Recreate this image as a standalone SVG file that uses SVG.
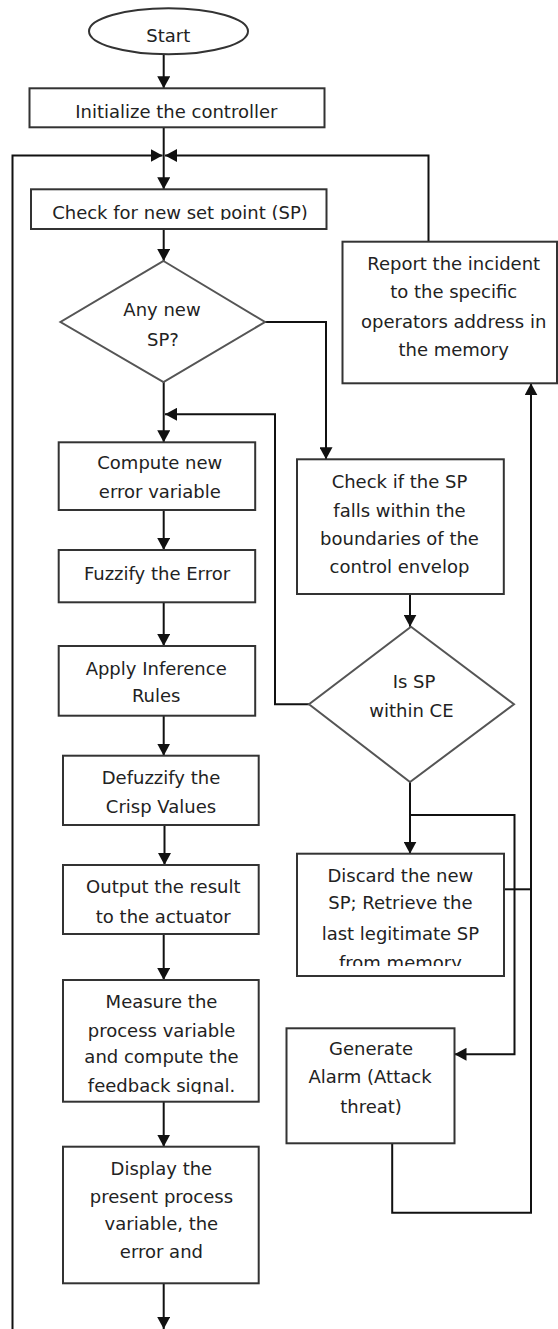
<svg xmlns="http://www.w3.org/2000/svg" width="558" height="1329" viewBox="0 0 558 1329">
<style>
.box{fill:#fff;stroke:#333;stroke-width:2}
.dia{fill:#fff;stroke:#555;stroke-width:2}
.conn{fill:none;stroke:#111;stroke-width:2}
text{font-family:"DejaVu Sans",Verdana,sans-serif;font-size:18px;fill:#222;text-anchor:middle}
</style>
<defs>
<marker id="ah" markerUnits="userSpaceOnUse" markerWidth="12" markerHeight="13" refX="12" refY="6.5" orient="auto">
<path d="M0,0 L12,6.5 L0,13 z" fill="#111"/>
</marker>
<clipPath id="clipCheck"><rect x="31" y="189" width="296" height="31"/></clipPath>
<clipPath id="clipDiscard"><rect x="297" y="854" width="207" height="112"/></clipPath>
<clipPath id="clipMeasure"><rect x="63" y="980" width="196" height="114"/></clipPath>
</defs>
<rect width="558" height="1329" fill="#fff"/>
<g id="connectors">
<path class="conn" d="M163.7,54.3 V88.3" marker-end="url(#ah)"/>
<path class="conn" d="M163.7,127.3 V189.3" marker-end="url(#ah)"/>
<path class="conn" d="M12.5,1329 V155.5 H162.5" marker-end="url(#ah)"/>
<path class="conn" d="M428.5,241.7 V155.5 H165" marker-end="url(#ah)"/>
<path class="conn" d="M163.7,229 V261" marker-end="url(#ah)"/>
<path class="conn" d="M163.7,382 V442.3" marker-end="url(#ah)"/>
<path class="conn" d="M309,704.3 H275 V414.3 H165" marker-end="url(#ah)"/>
<path class="conn" d="M265,322 H326 V459.3" marker-end="url(#ah)"/>
<path class="conn" d="M163.7,510 V550" marker-end="url(#ah)"/>
<path class="conn" d="M163.7,602.3 V646" marker-end="url(#ah)"/>
<path class="conn" d="M163.7,715.7 V755.7" marker-end="url(#ah)"/>
<path class="conn" d="M164.5,825 V865" marker-end="url(#ah)"/>
<path class="conn" d="M163.7,934 V980" marker-end="url(#ah)"/>
<path class="conn" d="M163.7,1101.7 V1146.7" marker-end="url(#ah)"/>
<path class="conn" d="M163.7,1283.3 V1329" marker-end="url(#ah)"/>
<path class="conn" d="M410,594 V626.7" marker-end="url(#ah)"/>
<path class="conn" d="M410,782 V853.7" marker-end="url(#ah)"/>
<path class="conn" d="M410,815 H514.5 V1054.3 H454.5" marker-end="url(#ah)"/>
<path class="conn" d="M503.8,889.3 H531"/>
<path class="conn" d="M392.2,1143.3 V1212.7 H531 V383.3" marker-end="url(#ah)"/>
</g>
<g id="start">
<ellipse class="dia" cx="168.5" cy="31.3" rx="79.5" ry="23" style="stroke:#333"/>
<text x="168.3" y="42.3">Start</text>
</g>
<g id="init">
<rect class="box" x="29.5" y="88.3" width="295" height="39"/>
<text x="176.3" y="118.3">Initialize the controller</text>
</g>
<g id="check-sp">
<rect class="box" x="31" y="189.3" width="295.5" height="39.7"/>
<text x="180" y="219.3" clip-path="url(#clipCheck)">Check for new set point (SP)</text>
</g>
<g id="any-new-sp">
<polygon class="dia" points="163.5,261 265,322 163.5,382 60.5,322"/>
<text x="162" y="316">Any new</text>
<text x="163" y="345.7">SP?</text>
</g>
<g id="report">
<rect class="box" x="342.5" y="241.7" width="214.5" height="141.6"/>
<text x="453.7" y="269.5">Report the incident</text>
<text x="453.7" y="298.3">to the specific</text>
<text x="453.7" y="327.5">operators address in</text>
<text x="453.7" y="356">the memory</text>
</g>
<g id="compute">
<rect class="box" x="58.7" y="442.3" width="196.5" height="67.7"/>
<text x="159.8" y="469.3">Compute new</text>
<text x="159.8" y="498.3">error variable</text>
</g>
<g id="fuzzify">
<rect class="box" x="58.7" y="550" width="196.5" height="52.3"/>
<text x="157" y="580">Fuzzify the Error</text>
</g>
<g id="check-ce">
<rect class="box" x="297" y="459.3" width="206.8" height="134.7"/>
<text x="399.5" y="488.3">Check if the SP</text>
<text x="399.5" y="516.7">falls within the</text>
<text x="399.5" y="545">boundaries of the</text>
<text x="399.5" y="573.3">control envelop</text>
</g>
<g id="apply">
<rect class="box" x="58.7" y="646" width="196.5" height="69.7"/>
<text x="156.2" y="675">Apply Inference</text>
<text x="156.2" y="702.3">Rules</text>
</g>
<g id="is-sp-within-ce">
<polygon class="dia" points="411,626.7 514,704.3 410,782 309,704.3"/>
<text x="414" y="688.3">Is SP</text>
<text x="411.4" y="717.3">within CE</text>
</g>
<g id="defuzzify">
<rect class="box" x="63" y="755.7" width="195.7" height="69.3"/>
<text x="161" y="784">Defuzzify the</text>
<text x="161" y="813.3">Crisp Values</text>
</g>
<g id="output">
<rect class="box" x="63" y="865" width="195.7" height="69"/>
<text x="163.3" y="892.7">Output the result</text>
<text x="163.3" y="923.3">to the actuator</text>
</g>
<g id="discard">
<rect class="box" x="297" y="853.7" width="207" height="122.3"/>
<text x="400.4" y="881.7">Discard the new</text>
<text x="400.4" y="909.3">SP; Retrieve the</text>
<text x="400.4" y="939.5">last legitimate SP</text>
<text x="400.4" y="969" clip-path="url(#clipDiscard)">from memory</text>
</g>
<g id="measure">
<rect class="box" x="63" y="980" width="195.7" height="121.7"/>
<text x="161.5" y="1008.3">Measure the</text>
<text x="161.5" y="1036.7">process variable</text>
<text x="161.5" y="1063.3">and compute the</text>
<text x="161.5" y="1091.7" clip-path="url(#clipMeasure)">feedback signal.</text>
</g>
<g id="alarm">
<rect class="box" x="286.5" y="1028.3" width="168" height="115"/>
<text x="371" y="1055">Generate</text>
<text x="370" y="1083.3">Alarm (Attack</text>
<text x="371" y="1112.7">threat)</text>
</g>
<g id="display">
<rect class="box" x="63" y="1146.7" width="195.7" height="136.6"/>
<text x="161.4" y="1175">Display the</text>
<text x="161.4" y="1202.7">present process</text>
<text x="161.4" y="1230">variable, the</text>
<text x="161.4" y="1258.3">error and</text>
</g>
</svg>
